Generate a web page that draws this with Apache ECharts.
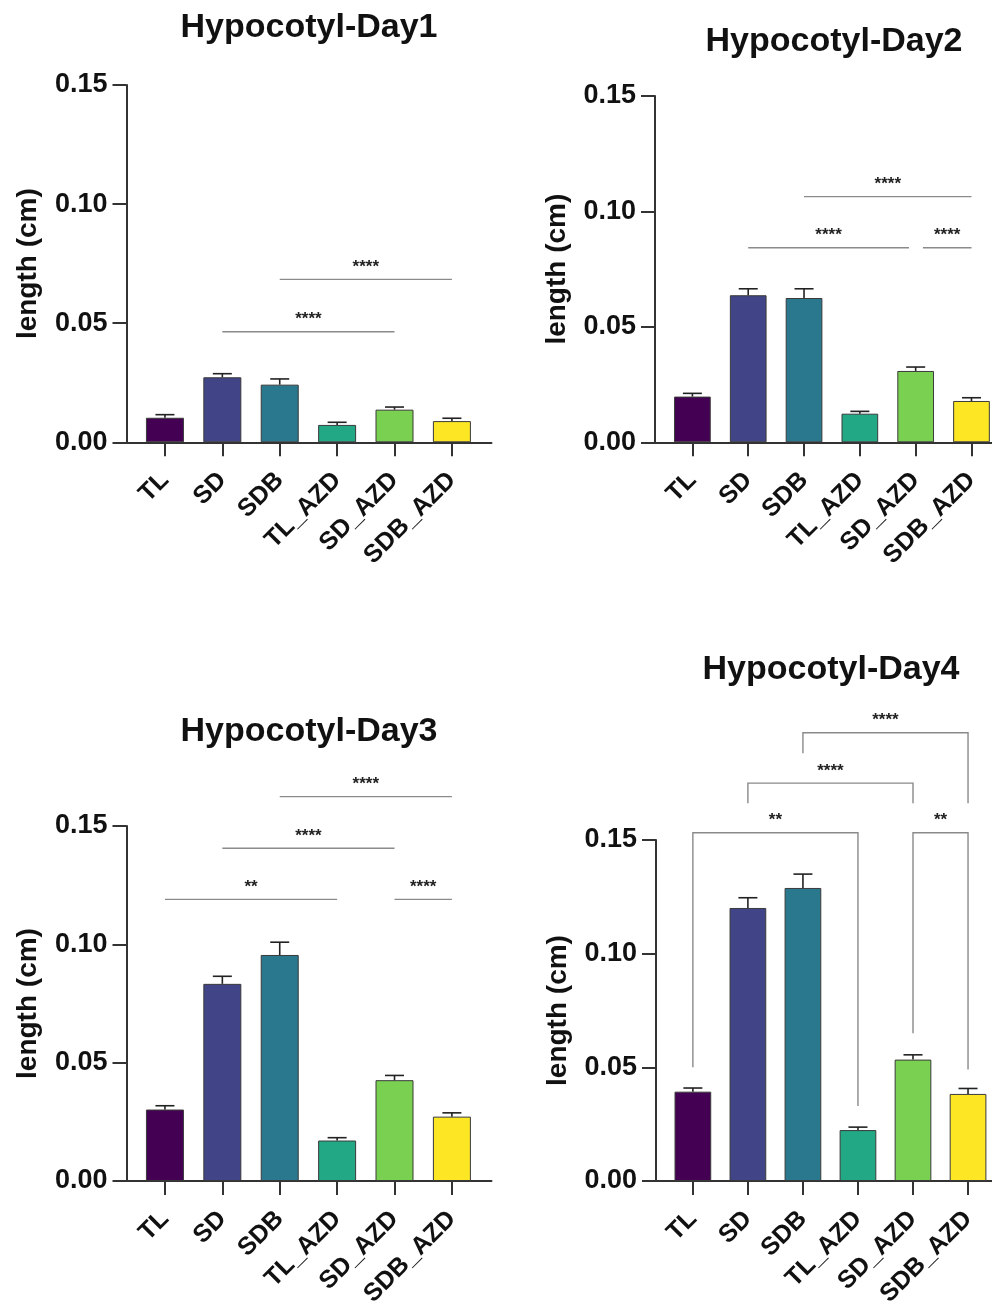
<!DOCTYPE html>
<html><head><meta charset="utf-8">
<script src="https://cdn.jsdelivr.net/npm/echarts@6/dist/echarts.min.js"></script>
<style>html,body{margin:0;padding:0;background:#fff}#c{width:992px;height:1303px}</style>
</head><body><div id="c"></div>
<script>
const categories = ['TL', 'SD', 'SDB', 'TL_AZD', 'SD_AZD', 'SDB_AZD'];
const titles = ['Hypocotyl-Day1', 'Hypocotyl-Day2', 'Hypocotyl-Day3', 'Hypocotyl-Day4'];
const yTicks = [0, 0.05, 0.10, 0.15];
const yName = 'length (cm)';

const day1Mean = [0.0103, 0.0273, 0.0242, 0.0073, 0.0137, 0.0089];
const day1Err  = [0.0013, 0.0015, 0.0024, 0.0011, 0.0011, 0.0012];
const day2Mean = [0.0198, 0.0637, 0.0625, 0.0124, 0.0309, 0.0179];
const day2Err  = [0.0014, 0.0028, 0.0040, 0.0010, 0.0017, 0.0014];
const day3Mean = [0.0302, 0.0833, 0.0955, 0.0171, 0.0426, 0.0272];
const day3Err  = [0.0016, 0.0032, 0.0054, 0.0012, 0.0020, 0.0016];
const day4Mean = [0.0393, 0.1201, 0.1289, 0.0224, 0.0534, 0.0383];
const day4Err  = [0.0016, 0.0045, 0.0061, 0.0013, 0.0021, 0.0024];

// significance: [from (category index), to, level, label, leftLegEnd, rightLegEnd]
const day1Sig = [[1, 4, 0.0464, '****'], [2, 5, 0.0684, '****']];
const day2Sig = [[1, 3.88, 0.0843, '****'], [4.13, 5, 0.0843, '****'], [2, 5, 0.1064, '****']];
const day3Sig = [[0, 3, 0.119, '**'], [4, 5, 0.119, '****'], [1, 4, 0.1406, '****'], [2, 5, 0.1624, '****']];
const day4Sig = [[0, 3, 0.1532, '**', 0.050, 0.033], [4, 5, 0.1532, '**', 0.065, 0.049],
                 [1, 4, 0.175, '****', 0.1662, 0.1662], [2, 5, 0.1972, '****', 0.1882, 0.1662]];

const barColors = ['#440154', '#414487', '#2a788e', '#22a884', '#7ad151', '#fde725'];
const FONT = '"Liberation Sans", Arial, Helvetica, sans-serif';

const panels = [
  {mean: day1Mean, err: day1Err, sig: day1Sig, grid: {left: 126.5, top: 85, width: 365, height: 357.3}, barW: 38, title: [309, 28]},
  {mean: day2Mean, err: day2Err, sig: day2Sig, grid: {left: 655, top: 96, width: 355, height: 346.3}, barW: 36.7, title: [834, 42]},
  {mean: day3Mean, err: day3Err, sig: day3Sig, grid: {left: 126.5, top: 826, width: 365, height: 355}, barW: 38, title: [309, 732]},
  {mean: day4Mean, err: day4Err, sig: day4Sig, grid: {left: 656, top: 840, width: 350, height: 341}, barW: 36.7, title: [831, 670]}
];

const axisColor = '#333';
const idx = categories.map((c, i) => i);

const option = {
  animation: false,
  backgroundColor: '#fff',
  grid: panels.map(p => Object.assign({outerBoundsMode: 'none', containLabel: false}, p.grid)),
  xAxis: panels.map((p, i) => ({
    type: 'value', gridIndex: i, min: -0.67, max: 5.69,
    axisLine: {show: true, onZero: false, lineStyle: {color: axisColor, width: 2}},
    axisTick: {show: true, length: 14, customValues: idx, lineStyle: {color: axisColor, width: 2}},
    axisLabel: {customValues: idx, formatter: v => categories[Math.round(v)], rotate: 45,
      fontSize: 25, fontWeight: 'bold', fontFamily: FONT, color: '#111', margin: 34},
    splitLine: {show: false}
  })),
  yAxis: panels.map((p, i) => ({
    type: 'value', gridIndex: i, min: 0, max: 0.15, interval: 0.05,
    axisLine: {show: true, onZero: false, lineStyle: {color: axisColor, width: 2}},
    axisTick: {show: true, length: 14, customValues: yTicks, lineStyle: {color: axisColor, width: 2}},
    axisLabel: {customValues: yTicks, formatter: v => v.toFixed(2), fontSize: 27, fontWeight: 'bold',
      fontFamily: FONT, color: '#111', margin: 19},
    splitLine: {show: false},
    name: yName, nameLocation: 'middle', nameGap: 84, nameMoveOverlap: false,
    nameTextStyle: {fontSize: 28, fontWeight: 'bold', fontFamily: FONT, color: '#111'}
  })),
  graphic: panels.map((p, i) => ({
    type: 'text', x: p.title[0], y: p.title[1],
    style: {text: titles[i], font: 'bold 34px ' + FONT, fill: '#111', align: 'center', verticalAlign: 'middle'}
  })),
  series: []
};

panels.forEach((p, i) => {
  option.series.push({
    type: 'bar', xAxisIndex: i, yAxisIndex: i, barWidth: p.barW,
    data: p.mean.map((v, j) => ({value: [j, v], itemStyle: {color: barColors[j], borderColor: '#3a3a3a', borderWidth: 1}})),
    z: 2
  });
  option.series.push({
    type: 'custom', xAxisIndex: i, yAxisIndex: i, z: 3,
    data: p.mean.map((v, j) => [j, v, v + p.err[j]]),
    encode: {x: 0, y: [1, 2]},
    renderItem: (params, api) => {
      const x = api.value(0);
      const a = api.coord([x, api.value(1)]);
      const b = api.coord([x, api.value(2)]);
      const hw = 9.5;
      const st = {stroke: '#222', lineWidth: 1.6};
      return {type: 'group', children: [
        {type: 'line', shape: {x1: a[0], y1: a[1], x2: b[0], y2: b[1]}, style: st},
        {type: 'line', shape: {x1: b[0] - hw, y1: b[1], x2: b[0] + hw, y2: b[1]}, style: st}
      ]};
    }
  });
  option.series.push({
    type: 'custom', xAxisIndex: i, yAxisIndex: i, z: 4, clip: false,
    data: p.sig.map(s => [s[0], s[2]]),
    encode: {x: 0, y: 1},
    renderItem: (params, api) => {
      const s = p.sig[params.dataIndex];
      const L = api.coord([s[0], s[2]]);
      const R = api.coord([s[1], s[2]]);
      const pts = [];
      if (s[4] != null) pts.push(api.coord([s[0], s[4]]));
      pts.push(L, R);
      if (s[5] != null) pts.push(api.coord([s[1], s[5]]));
      const mid = api.coord([(s[0] + s[1]) / 2, s[2]]);
      return {type: 'group', children: [
        {type: 'polyline', shape: {points: pts}, style: {stroke: '#8a8a8a', lineWidth: 1.4, fill: null}},
        {type: 'text', x: mid[0], y: mid[1] - 12,
          style: {text: s[3], font: 'bold 17px ' + FONT, fill: '#222', align: 'center', verticalAlign: 'middle'}}
      ]};
    }
  });
});

const chart = echarts.init(document.getElementById('c'), null, {renderer: 'canvas'});
chart.setOption(option);
</script>
</body></html>
